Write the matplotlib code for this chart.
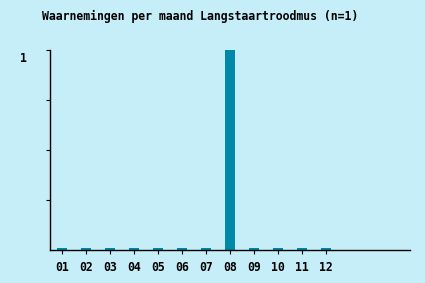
import matplotlib
matplotlib.use('Agg')
import matplotlib.pyplot as plt
from matplotlib.transforms import ScaledTranslation

maanden = ['01', '02', '03', '04', '05', '06', '07', '08', '09', '10', '11', '12']
waarnemingen = [0, 0, 0, 0, 0, 0, 0, 1, 0, 0, 0, 0]
titel = 'Waarnemingen per maand Langstaartroodmus (n=1)'

bg = '#c6eef8'
barkleur = '#0088a8'
plt.rcParams['font.family'] = 'DejaVu Sans Mono'
plt.rcParams['font.weight'] = 'bold'

fig = plt.figure(figsize=(4.25, 2.83), dpi=100, facecolor=bg)
ax = fig.add_axes([50/425, 1-250/283, 360/425, 200/283], facecolor=bg)

x = list(range(1, len(maanden)+1))
# lege maanden krijgen een klein streepje zoals in het origineel
hoogtes = [v if v > 0 else 0.01 for v in waarnemingen]
ax.bar(x, hoogtes, width=0.38, color=barkleur)

ax.set_xlim(0.5, 15.5)
ax.set_ylim(0, 1)
ax.set_xticks(x)
ax.set_xticklabels(maanden, fontsize=8.3)
ax.set_yticks([0.25, 0.5, 0.75, 1])
ax.set_yticklabels(['', '', '', '1'], fontsize=8.3)
ax.tick_params(axis='x', length=3, pad=5, color='black')
ax.tick_params(axis='y', length=3, pad=14, color='black')
for lab in ax.get_yticklabels():
    lab.set_transform(lab.get_transform() + ScaledTranslation(0, -5/72, fig.dpi_scale_trans))

for s in ['top', 'right']:
    ax.spines[s].set_visible(False)
ax.spines['left'].set_linewidth(1)
ax.spines['bottom'].set_linewidth(1)

fig.text(200/425, 1-16/283, titel, ha='center', va='center', fontsize=8.3, fontweight='bold')

fig.savefig('out.png', dpi=100, facecolor=bg)
